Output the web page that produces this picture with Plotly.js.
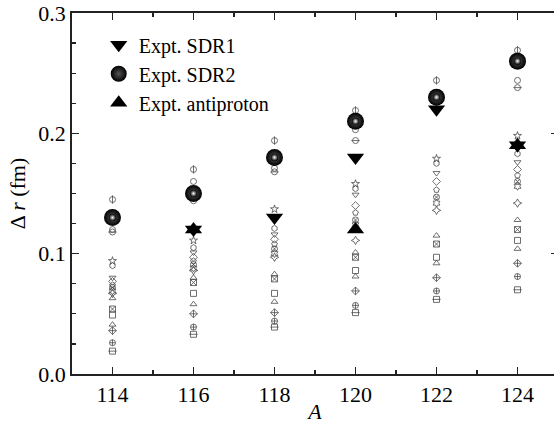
<!DOCTYPE html>
<html>
<head>
<meta charset="utf-8">
<script src="https://cdn.plot.ly/plotly-3.0.1.min.js"></script>
<style>
html,body{margin:0;padding:0;overflow:hidden;background:#fff;}
#chart{width:560px;height:424px;}
</style>
</head>
<body>
<div id="chart"></div>
<script>
// Mass numbers
var massA = [114, 116, 118, 120, 122, 124];

// Experimental values (null = no data)
var exptSDR1 = [null, 0.12, 0.13, 0.18, 0.22, 0.19];
var exptSDR2 = [0.13, 0.15, 0.18, 0.21, 0.23, 0.26];
var exptAntiproton = [null, 0.12, null, 0.12, null, 0.19];

// Theoretical results (small open symbols), one array per model
var th01 = [0.145, 0.170, 0.194, 0.219, 0.244, 0.269];
var th02 = [0.120, 0.160, 0.171, 0.203, 0.232, 0.244];
var th03 = [0.118, 0.144, 0.168, 0.194, 0.226, 0.238];
var th04 = [0.094, 0.111, 0.137, 0.158, 0.179, 0.198];
var th05 = [0.090, 0.105, 0.121, 0.154, 0.175, 0.183];
var th06 = [0.080, 0.101, 0.116, 0.149, 0.167, 0.176];
var th07 = [0.077, 0.097, 0.112, 0.140, 0.160, 0.170];
var th08 = [0.074, 0.094, 0.108, 0.134, 0.153, 0.165];
var th09 = [0.072, 0.091, 0.104, 0.128, 0.147, 0.160];
var th10 = [0.069, 0.088, 0.100, 0.124, 0.142, 0.156];
var th11 = [0.067, 0.086, 0.097, 0.111, 0.136, 0.142];
var th12 = [0.063, 0.080, 0.083, 0.101, 0.115, 0.128];
var th13 = [0.054, 0.076, 0.079, 0.097, 0.108, 0.120];
var th14 = [0.049, 0.067, 0.067, 0.086, 0.097, 0.111];
var th15 = [0.041, 0.058, 0.060, 0.081, 0.092, 0.104];
var th16 = [0.036, 0.050, 0.051, 0.069, 0.080, 0.092];
var th17 = [0.026, 0.039, 0.044, 0.057, 0.069, 0.081];
var th18 = [0.019, 0.033, 0.039, 0.051, 0.062, 0.070];

var theory = [
  [th01, 'circle-open'], [th01, 'line-ns-open'],
  [th02, 'circle-open'], [th03, 'circle-open'], [th03, 'line-ew-open'],
  [th04, 'star-open'], [th05, 'hexagon-open'], [th06, 'triangle-down-open'],
  [th07, 'diamond-open'], [th08, 'pentagon-open'], [th09, 'circle-x-open'],
  [th10, 'hexagram-open'], [th11, 'star-diamond-open'],
  [th12, 'triangle-up-open'], [th13, 'square-x-open'], [th14, 'square-open'],
  [th15, 'triangle-up-open'], [th16, 'diamond-cross-open'],
  [th17, 'circle-cross-open'], [th18, 'square-open'], [th18, 'line-ew-open']
];

var traces = theory.map(function (t) {
  return {
    x: massA, y: t[0], type: 'scatter', mode: 'markers', showlegend: false,
    hoverinfo: 'skip',
    marker: {symbol: t[1], size: 6, color: '#4a4a4a', line: {color: '#4a4a4a', width: 0.8}}
  };
});

traces.push({
  x: massA, y: exptSDR1, type: 'scatter', mode: 'markers', name: 'Expt. SDR1',
  marker: {symbol: 'triangle-down', size: 15, color: '#000'}
});
traces.push({
  x: massA, y: exptSDR2, type: 'scatter', mode: 'markers', name: 'Expt. SDR2',
  marker: {symbol: 'circle', size: 17, color: '#000',
           gradient: {type: 'radial', color: '#555'}, line: {width: 0}}
});
traces.push({
  x: massA, y: exptSDR2, type: 'scatter', mode: 'markers', showlegend: false,
  hoverinfo: 'skip',
  marker: {symbol: 'circle', size: 7, color: '#000',
           gradient: {type: 'radial', color: '#ffffff'}, line: {width: 0}}
});
traces.push({
  x: massA, y: exptAntiproton, type: 'scatter', mode: 'markers', name: 'Expt. antiproton',
  marker: {symbol: 'triangle-up', size: 15, color: '#000'}
});

var serif = 'Liberation Serif';
var layout = {
  width: 560, height: 424,
  margin: {l: 72, r: 2, t: 13, b: 50},
  paper_bgcolor: '#fff', plot_bgcolor: '#fff',
  font: {family: serif, size: 20, color: '#000'},
  showlegend: true,
  legend: {x: 0.055, y: 0.966, xanchor: 'left', yanchor: 'top',
           bgcolor: 'rgba(0,0,0,0)', font: {family: serif, size: 20, color: '#000'}},
  xaxis: {
    range: [113, 125], tickvals: [114, 116, 118, 120, 122, 124],
    ticks: 'inside', ticklen: 7, tickwidth: 1.5, tickcolor: '#222',
    minor: {dtick: 1, tick0: 113, ticks: 'inside', ticklen: 4, tickwidth: 1.2, tickcolor: '#222'},
    showline: true, linecolor: '#222', linewidth: 1.8, mirror: 'ticks',
    showgrid: false, zeroline: false,
    tickfont: {family: serif, size: 22},
    title: {text: '<i>A</i>', font: {family: serif, size: 22}, standoff: 4}
  },
  yaxis: {
    range: [0, 0.3], dtick: 0.1, tickformat: '.1f',
    ticks: 'inside', ticklen: 7, tickwidth: 1.5, tickcolor: '#222',
    minor: {dtick: 0.025, ticks: 'inside', ticklen: 4, tickwidth: 1.2, tickcolor: '#222'},
    showline: true, linecolor: '#222', linewidth: 1.8, mirror: 'ticks',
    showgrid: false, zeroline: false,
    tickfont: {family: serif, size: 22},
    title: {text: 'Δ <i>r</i> (fm)', font: {family: serif, size: 22}, standoff: 6}
  }
};

Plotly.newPlot('chart', traces, layout, {staticPlot: true, displayModeBar: false});
</script>
</body>
</html>
